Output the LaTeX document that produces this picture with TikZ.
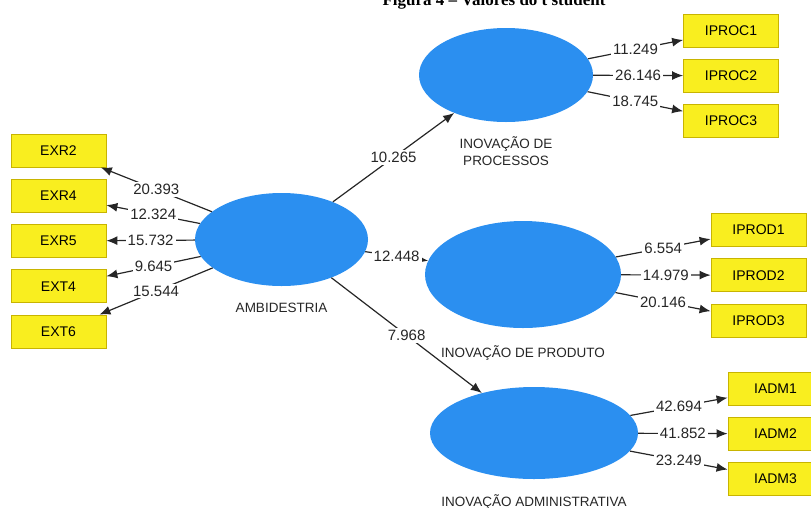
\documentclass[tikz,border=0pt]{standalone}
\usepackage{fontspec}
\setmainfont{Liberation Sans}
\newfontfamily\capserif{Liberation Serif}
\usetikzlibrary{arrows.meta,positioning,shapes.geometric}
\definecolor{plsblue}{HTML}{2B8FF0}
\definecolor{plsyellow}{HTML}{F9EE1F}
\definecolor{plsedge}{HTML}{C8B400}
\definecolor{plsink}{HTML}{262626}

\begin{document}
\begin{tikzpicture}[x=1pt, y=-1pt, >={Latex[length=11pt,width=9pt]},
  lv/.style={ellipse, fill=plsblue, inner sep=0pt},
  ind/.style={draw=plsedge, line width=0.8pt, fill=plsyellow, minimum width=95pt, minimum height=33pt, inner sep=0pt, font=\fontsize{14}{16}\selectfont, text=black},
  lvname/.style={inner sep=0pt, align=center, font=\fontsize{13.5}{17}\selectfont, text=plsink},
  coef/.style={fill=white, inner sep=2pt, font=\fontsize{15}{17}\selectfont, text=plsink},
  pth/.style={->, plsink, line width=1.2pt}]
  \useasboundingbox (0,0) rectangle (811,507);
  % caption, cut by the page top
  \node[font=\capserif\bfseries\fontsize{17}{19}\selectfont, anchor=base] (cap) at (494,5) {Figura 4 – Valores do t student};
  % latent variables
  \node[lv, minimum width=173pt, minimum height=93pt] (amb) at (281.5,239.5) {};
  \node[lv, minimum width=174pt, minimum height=94pt] (iproc) at (506,75) {};
  \node[lv, minimum width=196pt, minimum height=107pt] (iprod) at (523,274.5) {};
  \node[lv, minimum width=208pt, minimum height=92pt] (iadm) at (534,433) {};
  \node[lvname, below=26pt of amb.south, anchor=base] (namb) {AMBIDESTRIA};
  \node[lvname, below=43pt of iproc.south, anchor=base] (niproc) {INOVAÇÃO DE\\PROCESSOS};
  \node[lvname, below=29pt of iprod.south, anchor=base] (niprod) {INOVAÇÃO DE PRODUTO};
  \node[lvname, below=27pt of iadm.south, anchor=base] (niadm) {INOVAÇÃO ADMINISTRATIVA};
  % indicators
  \foreach \name [count=\i] in {EXR2,EXR4,EXR5,EXT4,EXT6}
    \node[ind] (\name) at (58.5,105.25+45.25*\i) {\name};
  \foreach \name [count=\i] in {IPROC1,IPROC2,IPROC3}
    \node[ind] (\name) at (731,-14.75+45.25*\i) {\name};
  \foreach \name [count=\i] in {IPROD1,IPROD2,IPROD3}
    \node[ind] (\name) at (758.5,184.75+45.25*\i) {\name};
  \foreach \name [count=\i] in {IADM1,IADM2,IADM3}
    \node[ind] (\name) at (775.5,344.25+44.75*\i) {\name};
  % paths with t values
  \foreach \name/\val in {EXR2/20.393,EXR4/12.324,EXR5/15.732,EXT4/9.645,EXT6/15.544}
    \draw[pth] (amb) -- node[coef] {\val} (\name);
  \foreach \name/\val in {IPROC1/11.249,IPROC2/26.146,IPROC3/18.745}
    \draw[pth] (iproc) -- node[coef] {\val} (\name);
  \foreach \name/\val in {IPROD1/6.554,IPROD2/14.979,IPROD3/20.146}
    \draw[pth] (iprod) -- node[coef] {\val} (\name);
  \foreach \name/\val in {IADM1/42.694,IADM2/41.852,IADM3/23.249}
    \draw[pth] (iadm) -- node[coef] {\val} (\name);
  \draw[pth] (amb) -- node[coef] {10.265} (iproc);
  \draw[pth] (amb) -- node[coef] {12.448} (iprod);
  \draw[pth] (amb) -- node[coef] {7.968} (iadm);
\end{tikzpicture}
\end{document}
